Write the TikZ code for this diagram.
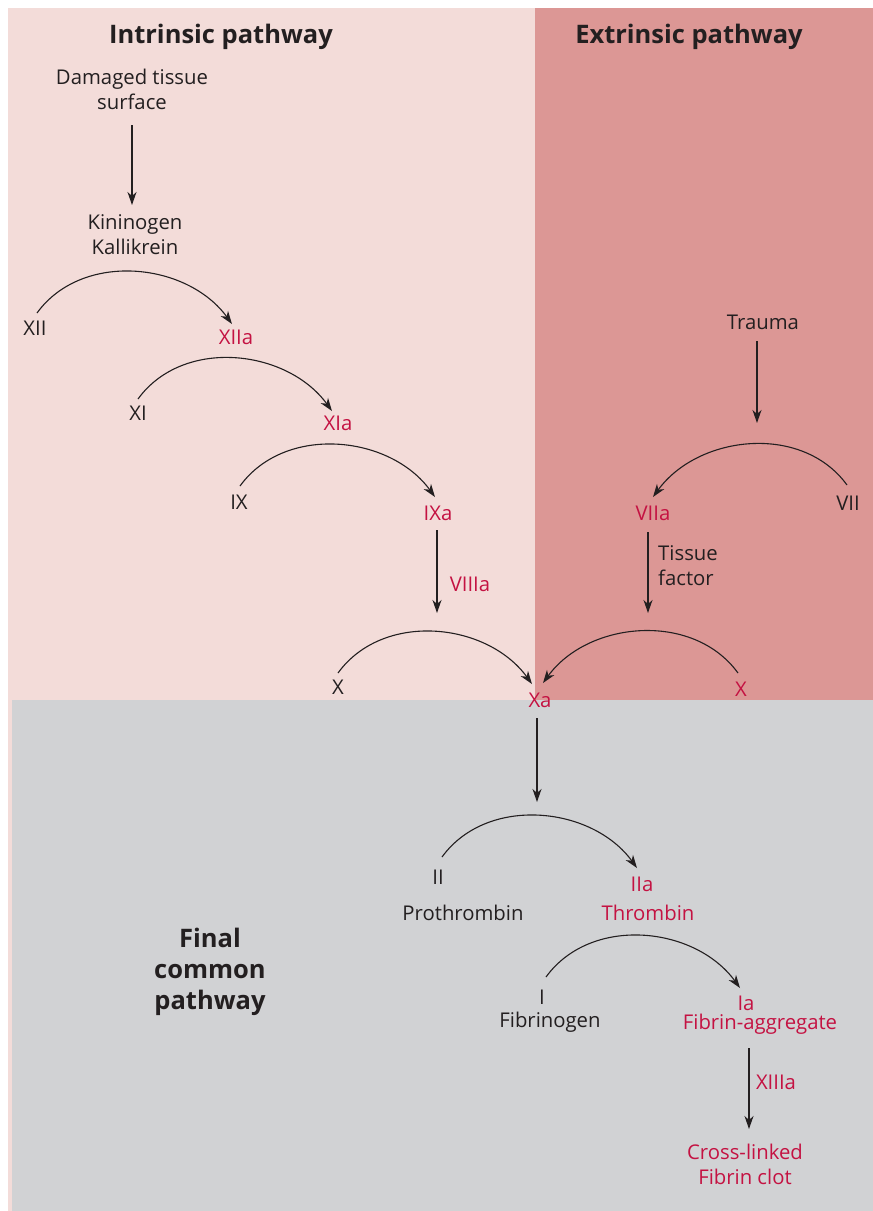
\documentclass[tikz,border=0pt]{standalone}
\usepackage{fontspec}
\setmainfont{Open Sans}
\usetikzlibrary{arrows.meta}
\definecolor{lpink}{RGB}{243,220,217}
\definecolor{dpink}{RGB}{220,151,149}
\definecolor{greybg}{RGB}{209,210,212}
\definecolor{ink}{RGB}{35,31,32}
\definecolor{redtxt}{RGB}{196,18,66}
\tikzset{
  lbl/.style={inner sep=0pt, text=ink, font=\fontsize{20.3}{25}\selectfont, align=center},
  rlbl/.style={lbl, text=redtxt},
  ttl/.style={inner sep=0pt, text=ink, font=\fontsize{25.5}{31}\selectfont\bfseries, align=center},
  arr/.style={draw=ink, line width=1.1pt, -{Stealth[length=13pt,width=9pt,inset=4pt]}},
}
\begin{document}
\begin{tikzpicture}[x=1pt,y=-1pt]
\useasboundingbox (0,0) rectangle (873,1211);
% backgrounds
\fill[white] (0,0) rectangle (873,1211);
\fill[lpink] (8,8) rectangle (535,1211);
\fill[dpink] (535,8) rectangle (873,700);
\fill[greybg] (12,700) rectangle (873,1211);
% titles
\node[ttl] (tin) at (221,37) {Intrinsic pathway};
\node[ttl] (tex) at (689,37) {Extrinsic pathway};
\node[ttl] (final) at (210,972) {Final\\common\\pathway};
% intrinsic
\node[lbl] (dmg) at (132,89.5) {Damaged tissue\\surface};
\node[lbl] (kin) at (135,234.5) {Kininogen\\Kallikrein};
\node[lbl] (XII) at (35,328) {XII};
\node[rlbl] (XIIa) at (236,337) {XIIa};
\node[lbl] (XI) at (138,413) {XI};
\node[rlbl] (XIa) at (338,423) {XIa};
\node[lbl] (IX) at (239,502) {IX};
\node[rlbl] (IXa) at (438,513) {IXa};
\node[rlbl] (VIIIa) at (470,584) {VIIIa};
\coordinate (cX1) at (437,613);
\node[lbl] (X1) at (338,687) {X};
\node[rlbl] (Xa) at (540,700) {Xa};
% extrinsic
\node[lbl] (trauma) at (763,322) {Trauma};
\coordinate (cTr) at (757,423);
\node[lbl] (VII) at (848,503) {VII};
\node[rlbl] (VIIa) at (653,513) {VIIa};
\node[lbl, align=left] (tf) at (688,565.5) {Tissue\\factor};
\coordinate (cTf) at (648,613);
\node[rlbl] (X2) at (741,689) {X};
% common
\coordinate (cXa) at (537,802);
\node[lbl] (II) at (438,877) {II};
\node[lbl] (proth) at (463,913) {Prothrombin};
\node[rlbl] (IIa) at (642,884) {IIa};
\node[rlbl] (thr) at (648,913) {Thrombin};
\node[lbl] (I) at (542,997) {I};
\node[lbl] (fbg) at (550,1022) {Fibrinogen};
\node[rlbl] (Ia) at (746,1003) {Ia};
\node[rlbl] (fagg) at (760,1024) {Fibrin-aggregate};
\node[rlbl] (XIIIa) at (776,1082) {XIIIa};
\node[rlbl] (clot) at (745,1164.5) {Cross-linked\\Fibrin clot};
% straight arrows
\draw[arr] ([shift={(0pt,-35.5pt)}]dmg.center) -- ([shift={(-3pt,29.5pt)}]kin.center);
\draw[arr] ([shift={(-6pt,-19pt)}]trauma.center) -- (cTr);
\draw[arr] ([shift={(-1pt,-17pt)}]IXa.center) -- (cX1);
\draw[arr] ([shift={(-5pt,-19pt)}]VIIa.center) -- (cTf);
\draw[arr] ([shift={(-3pt,-18pt)}]Xa.center) -- (cXa);
\draw[arr] ([shift={(-11pt,-24pt)}]fagg.center) -- ([shift={(4pt,35.5pt)}]clot.center);
% arcs
\draw[arr] ([shift={(2pt,15pt)}]XII.center) .. controls +(45,-62) and +(-45,-62) .. ([shift={(-4pt,13pt)}]XIIa.center);
\draw[arr] ([shift={(0pt,14pt)}]XI.center) .. controls +(45,-62) and +(-45,-62) .. ([shift={(-6pt,12pt)}]XIa.center);
\draw[arr] ([shift={(1pt,16pt)}]IX.center) .. controls +(45,-62) and +(-45,-62) .. ([shift={(-3pt,16pt)}]IXa.center);
\draw[arr] ([shift={(-1pt,18pt)}]VII.center) .. controls +(-45,-62) and +(45,-62) .. ([shift={(0pt,16pt)}]VIIa.center);
\draw[arr] ([shift={(0pt,14pt)}]X1.center) .. controls +(45,-62) and +(-45,-62) .. ([shift={(-8pt,16pt)}]Xa.center);
\draw[arr] ([shift={(-3pt,16pt)}]X2.center) .. controls +(-45,-62) and +(45,-62) .. ([shift={(3pt,17pt)}]Xa.center);
\draw[arr] ([shift={(4pt,20pt)}]II.center) .. controls +(45,-62) and +(-45,-62) .. ([shift={(-5pt,16pt)}]IIa.center);
\draw[arr] ([shift={(4pt,20pt)}]I.center) .. controls +(45,-62) and +(-45,-62) .. ([shift={(-6pt,15pt)}]Ia.center);
\end{tikzpicture}
\end{document}
